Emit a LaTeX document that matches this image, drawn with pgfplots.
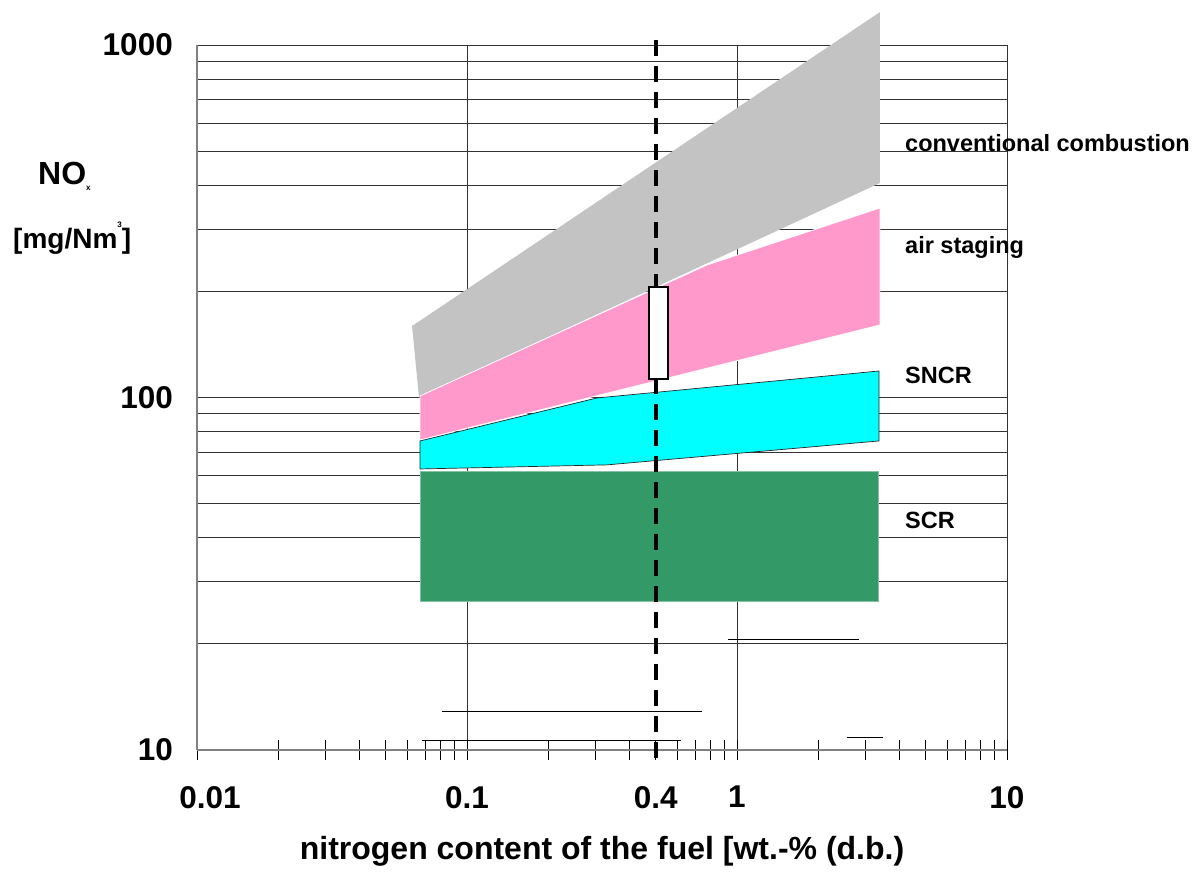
\documentclass[border=0pt]{standalone}
\usepackage{fontspec}
\setmainfont{Liberation Sans}
\usepackage{pgfplots}
\pgfplotsset{compat=1.18}
\definecolor{cgray}{HTML}{C3C3C3}
\definecolor{cpink}{HTML}{FF99CC}
\definecolor{ccyan}{HTML}{00FFFF}
\definecolor{cgreen}{HTML}{339966}
\begin{document}
\begin{tikzpicture}[x=1pt,y=1pt]
\useasboundingbox (0,0) rectangle (1194,879);
\begin{axis}[
  at={(197pt,129pt)}, anchor=south west,
  scale only axis, width=810pt, height=705pt,
  xmode=log, ymode=log,
  xmin=0.01, xmax=10, ymin=10, ymax=1000,
  clip=false,
  axis x line=bottom, axis y line=left,
  axis line style={-, black!50, line width=1.5pt},
  xtick={0.01,0.1,1,10},
  xticklabels={\textbf{\hspace*{26pt}0.01},\textbf{0.1},\textbf{1},\textbf{10}},
  extra x ticks={0.5}, extra x tick labels={\textbf{0.4}},
  extra x tick style={grid=none},
  ytick={10,100,1000}, yticklabels={\textbf{10},\textbf{100},\textbf{1000}},
  xmajorgrids, ymajorgrids, yminorgrids,
  grid style={black!80, line width=0.9pt},
  minor grid style={black!80, line width=0.9pt},
  xtick align=center,
  major tick length=20pt, minor tick length=20pt,
  xtick style={black, line width=0.8pt},
  ytick style={draw=none},
  xticklabel style={font=\fontsize{31.5}{31.5}\selectfont\bfseries, inner sep=0pt, yshift=-26pt},
  yticklabel style={font=\fontsize{31.5}{31.5}\selectfont\bfseries, inner sep=0pt, anchor=east, xshift=-14pt},
  xlabel={\textbf{nitrogen content of the fuel [wt.-\% (d.b.)}},
  xlabel style={font=\fontsize{32}{32}\selectfont\bfseries, at={(axis description cs:0.5,0)}, anchor=base, yshift=-109pt},
]
% conventional combustion
\addplot[fill=cgray, draw=none] coordinates {(0.0626,159.5) (3.385,1240) (3.385,406) (0.0664,100.3)} -- cycle;
% air staging
\addplot[fill=cpink, draw=white, line width=0.8pt] coordinates {(0.067,101) (0.774,237.6) (3.385,344.8) (3.385,160.6) (0.067,75.8)} -- cycle;
% SNCR
\addplot[fill=ccyan, draw=black!85, line width=0.7pt] coordinates {(0.067,75.3) (0.303,99.7) (3.357,118.9) (3.357,75.3) (0.330,64.4) (0.067,62.7)} -- cycle;
% SCR
\addplot[fill=cgreen, draw=cgreen!60!white, line width=0.6pt] coordinates {(0.067,61.9) (3.328,61.9) (3.328,26.5) (0.067,26.5)} -- cycle;
% stray lines
\addplot[black, line width=0.9pt] coordinates {(0.0808,12.9) (0.742,12.9)};
\addplot[black, line width=0.9pt] coordinates {(0.0681,10.67) (0.620,10.67)};
\addplot[black, line width=0.9pt] coordinates {(0.926,20.6) (2.83,20.6)};
\addplot[black, line width=0.9pt] coordinates {(2.555,10.89) (3.47,10.89)};
% dashed line at fuel N
\addplot[black, line width=4pt, dash pattern=on 15.7pt off 10.3pt] coordinates {(0.5,1033) (0.5,9.37)};
% box
\addplot[fill=white, draw=black, line width=1.5pt] coordinates {(0.472,112.8) (0.555,112.8) (0.555,205.8) (0.472,205.8)} -- cycle;
\end{axis}
% y label
\node[anchor=base west, inner sep=0pt, font=\fontsize{32}{32}\selectfont\bfseries] at (38,694) {NO\raisebox{-6pt}{\fontsize{8}{8}\selectfont x}};
\node[anchor=base west, inner sep=0pt, font=\fontsize{28}{28}\selectfont\bfseries] at (13,630) {[mg/Nm\raisebox{21pt}{\fontsize{8}{8}\selectfont 3}]};
% series labels
\node[anchor=base west, inner sep=0pt, font=\fontsize{23.5}{23.5}\selectfont\bfseries] at (905,727) {conventional combustion};
\node[anchor=base west, inner sep=0pt, font=\fontsize{23.5}{23.5}\selectfont\bfseries] at (905,625) {air staging};
\node[anchor=base west, inner sep=0pt, font=\fontsize{23.5}{23.5}\selectfont\bfseries] at (905,495) {SNCR};
\node[anchor=base west, inner sep=0pt, font=\fontsize{23.5}{23.5}\selectfont\bfseries] at (905,350) {SCR};
\end{tikzpicture}
\end{document}
